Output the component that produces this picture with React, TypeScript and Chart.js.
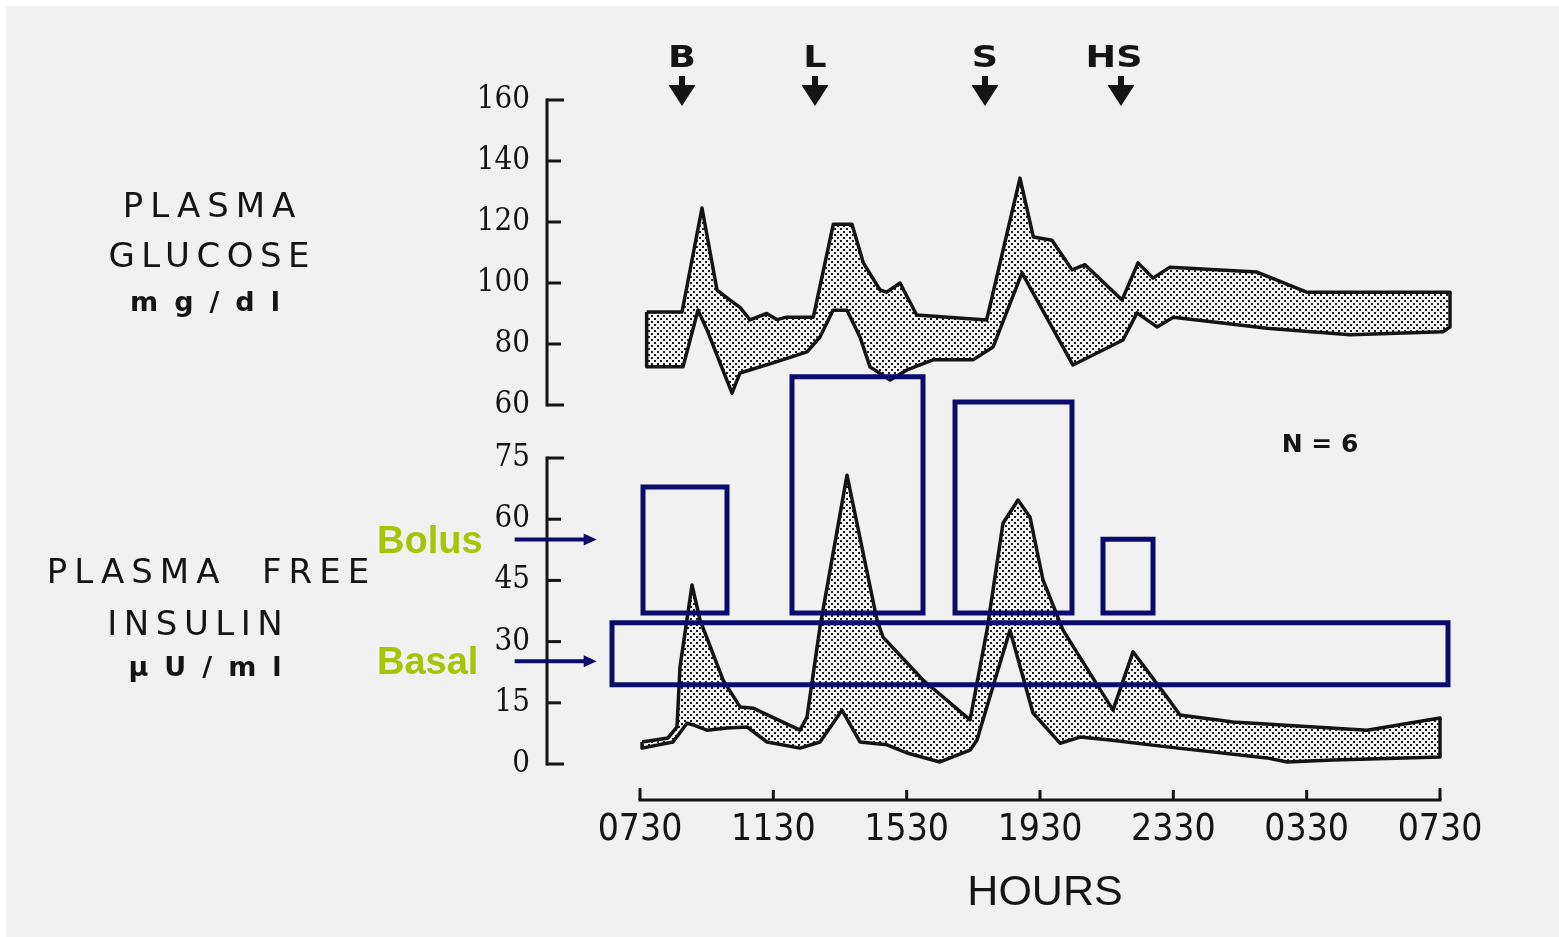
import React, { useEffect, useRef } from 'react';
import { Chart, registerables } from 'chart.js';

Chart.register(...registerables);

// ---------- data ----------
const hourTicks = [0, 4, 8, 12, 16, 20, 24];
const hourLabels = ['0730', '1130', '1530', '1930', '2330', '0330', '0730'];
const glucoseTicks = [60, 80, 100, 120, 140, 160];
const insulinTicks = [0, 15, 30, 45, 60, 75];

// hours after 07:30
const glucoseUpperX = [0.2, 1.26, 1.86, 2.31, 2.7, 3.0, 3.3, 3.8, 4.1, 4.4, 5.2, 5.8, 6.36, 6.7, 7.2, 7.4, 7.8, 8.3, 10.4, 11.4, 11.8, 12.36, 12.96, 13.35, 14.46, 14.94, 15.39, 15.9, 18.51, 20.0, 24.3];
const glucoseUpperY = [90.5, 90.5, 124.6, 97.7, 94.4, 92, 87.9, 90, 88, 88.8, 88.8, 119.3, 119.3, 106.6, 97.7, 97, 100, 89.5, 87.9, 134.4, 115.1, 114, 104.3, 106, 94.4, 106.6, 101.6, 105.2, 103.6, 97, 97];
const glucoseLowerX = [0.2, 1.29, 1.74, 2.01, 2.76, 3.0, 3.99, 5.01, 5.4, 5.79, 6.21, 6.6, 6.9, 7.5, 8.01, 8.79, 9.99, 10.59, 11.46, 12.99, 14.49, 14.91, 15.51, 16.0, 18.81, 21.3, 24.09, 24.3];
const glucoseLowerY = [72.5, 72.5, 91.1, 84.6, 63.9, 70.5, 73.8, 77.4, 82.3, 91.1, 91.1, 82.3, 72.5, 68.2, 71.5, 74.8, 74.8, 79, 103.3, 73.1, 81.3, 90.2, 85.6, 88.8, 85.2, 83, 84, 85.6];

const insulinUpperX = [0.06, 0.84, 1.11, 1.2, 1.56, 1.8, 2.49, 3.0, 3.39, 4.8, 5.01, 5.4, 6.21, 7.11, 7.29, 8.49, 9.9, 10.41, 10.89, 11.34, 11.7, 12.09, 12.69, 14.19, 14.79, 15.81, 16.2, 17.79, 21.81, 24.0];
const insulinUpperY = [5.4, 6.4, 9.1, 23.8, 43.9, 35.3, 20.6, 14, 13.7, 8.3, 11.5, 33.6, 70.8, 35.3, 31.1, 20.6, 10.8, 32.8, 59, 64.7, 60.5, 45.1, 32.8, 13.2, 27.5, 16.4, 12, 10.3, 8.3, 11.3];
const insulinLowerX = [0.06, 0.99, 1.41, 1.59, 2.01, 2.61, 3.21, 3.81, 4.8, 5.4, 6.06, 6.6, 7.41, 8.01, 9.0, 9.9, 10.11, 10.71, 11.1, 11.79, 12.6, 13.2, 14.1, 15.81, 18.81, 19.41, 20.79, 24.0];
const insulinLowerY = [3.9, 5.4, 10, 9.6, 8.3, 8.8, 9.1, 5.4, 3.9, 5.4, 13.2, 5.4, 4.7, 2.7, 0.5, 3.4, 5.9, 22.3, 32.8, 12.5, 5.1, 6.6, 5.9, 4.2, 1.5, 0.5, 1, 1.7];

// bolus boxes (insulin units, hours)
const bolusStart = [0.09, 4.56, 9.45, 13.89];
const bolusEnd = [2.61, 8.49, 12.96, 15.39];
const bolusTop = [67.9, 94.9, 88.7, 55.1];
const bolusBottom = 37.0;
// basal box
const basalStart = -0.84;
const basalEnd = 24.24;
const basalTop = 34.6;
const basalBottom = 19.4;

const mealTimes = [1.26, 5.25, 10.35, 14.43];
const mealLabels = ['B', 'L', 'S', 'HS'];

const pointerLabels = ['Bolus', 'Basal'];
const pointerLevels = [55, 25.2];

// ---------- helpers ----------
const W = 1559;
const H = 937;
const NAVY = '#0b0b6c';
const INK = '#141414';
const GREEN = '#a6c408';

function polygon(ux: number[], uy: number[], lx: number[], ly: number[]) {
  const pts = ux.map((x, i) => ({ x, y: uy[i] }));
  for (let i = lx.length - 1; i >= 0; i--) pts.push({ x: lx[i], y: ly[i] });
  pts.push({ ...pts[0] });
  return pts;
}

function rect(x0: number, x1: number, y0: number, y1: number) {
  return [
    { x: x0, y: y1 },
    { x: x1, y: y1 },
    { x: x1, y: y0 },
    { x: x0, y: y0 },
    { x: x0, y: y1 },
  ];
}

function makePattern(): CanvasPattern | string {
  const c = document.createElement('canvas');
  c.width = 6;
  c.height = 6;
  const g = c.getContext('2d');
  if (!g) return '#bbb';
  g.fillStyle = '#f4f4f4';
  g.fillRect(0, 0, 6, 6);
  g.fillStyle = '#1c1c1c';
  g.fillRect(0, 0, 2, 2);
  g.fillRect(3, 3, 2, 2);
  return g.createPattern(c, 'repeat') || '#bbb';
}

type TxtOpts = { align?: 'left' | 'center' | 'right'; spacing?: number; sx?: number; color?: string; baseline?: CanvasTextBaseline };
function txt(ctx: CanvasRenderingContext2D, s: string, x: number, y: number, font: string, o: TxtOpts = {}) {
  ctx.save();
  ctx.font = font;
  ctx.fillStyle = o.color || INK;
  ctx.textBaseline = o.baseline || 'alphabetic';
  const sp = o.spacing || 0;
  (ctx as any).letterSpacing = sp + 'px';
  const sx = o.sx || 1;
  const w = (ctx.measureText(s).width - sp) * sx;
  let left = x;
  if (o.align === 'center') left = x - w / 2;
  else if (o.align === 'right') left = x - w;
  ctx.translate(left, y);
  ctx.scale(sx, 1);
  ctx.textAlign = 'left';
  ctx.fillText(s, 0, 0);
  ctx.restore();
}

const overlay = {
  id: 'overlay',
  beforeDraw(chart: any) {
    const ctx: CanvasRenderingContext2D = chart.ctx;
    ctx.save();
    ctx.fillStyle = '#ffffff';
    ctx.fillRect(0, 0, W, H);
    ctx.fillStyle = '#f1f1f1';
    ctx.fillRect(6, 6, W - 6, H - 6);
    ctx.restore();
  },
  afterDraw(chart: any) {
    const ctx: CanvasRenderingContext2D = chart.ctx;
    const xs = chart.scales.x;
    const yG = chart.scales.yG;
    const yI = chart.scales.yI;
    const ax = chart.chartArea.left - 1;
    const bottom = chart.chartArea.bottom;

    ctx.save();
    ctx.strokeStyle = INK;
    ctx.lineWidth = 3;
    ctx.lineCap = 'butt';

    // y axes (bracket style)
    const drawY = (scale: any, ticks: number[]) => {
      const yTop = scale.getPixelForValue(ticks[ticks.length - 1]);
      const yBot = scale.getPixelForValue(ticks[0]);
      ctx.beginPath();
      ctx.moveTo(ax, yTop - 1.5);
      ctx.lineTo(ax, yBot + 1.5);
      ctx.stroke();
      ticks.forEach((v, i) => {
        const y = scale.getPixelForValue(v);
        const len = i === 0 || i === ticks.length - 1 ? 17 : 14;
        ctx.beginPath();
        ctx.moveTo(ax, y);
        ctx.lineTo(ax + len, y);
        ctx.stroke();
        txt(ctx, String(v), ax - 17, y, '31px "DejaVu Serif Condensed", "DejaVu Serif", serif', { align: 'right', baseline: 'middle' });
      });
    };
    drawY(yG, glucoseTicks);
    drawY(yI, insulinTicks);

    // x axis
    const x0 = xs.getPixelForValue(hourTicks[0]);
    const x1 = xs.getPixelForValue(hourTicks[hourTicks.length - 1]);
    ctx.beginPath();
    ctx.moveTo(x0 - 1.5, bottom);
    ctx.lineTo(x1 + 1.5, bottom);
    ctx.stroke();
    hourTicks.forEach((v, i) => {
      const x = xs.getPixelForValue(v);
      ctx.beginPath();
      ctx.moveTo(x, bottom);
      ctx.lineTo(x, bottom - (i === 0 || i === hourTicks.length - 1 ? 12 : 10));
      ctx.stroke();
    });
    txt(ctx, 'HOURS', (x0 + x1) / 2 + 5, 905, '43px "Liberation Sans", Arial, sans-serif', { align: 'center' });

    // meal markers
    ctx.fillStyle = INK;
    mealTimes.forEach((t, i) => {
      const x = xs.getPixelForValue(t);
      const lx = mealLabels[i].length > 1 ? x - 7 : x;
      txt(ctx, mealLabels[i], lx, 67, 'bold 31px "DejaVu Sans", sans-serif', { align: 'center', sx: 1.18 });
      ctx.fillStyle = INK;
      ctx.fillRect(x - 3, 76, 6, 12);
      ctx.beginPath();
      ctx.moveTo(x - 13.5, 85);
      ctx.lineTo(x + 13.5, 85);
      ctx.lineTo(x, 106);
      ctx.closePath();
      ctx.fill();
    });

    // left titles
    const f34 = '34px "DejaVu Sans", sans-serif';
    txt(ctx, 'PLASMA', 209, 217, f34, { align: 'center', spacing: 7 });
    txt(ctx, 'GLUCOSE', 209, 267, f34, { align: 'center', spacing: 6.5 });
    txt(ctx, 'mg/dl', 205, 311, 'bold 27px "DejaVu Sans", sans-serif', { align: 'center', spacing: 16 });
    txt(ctx, 'PLASMA  FREE', 208, 583, f34, { align: 'center', spacing: 7 });
    txt(ctx, 'INSULIN', 195, 635, f34, { align: 'center', spacing: 6.5 });
    txt(ctx, 'μU/ml', 205, 676, 'bold 27px "DejaVu Sans", sans-serif', { align: 'center', spacing: 16 });

    // N = 6
    txt(ctx, 'N = 6', 1320, 452, 'bold 25px "DejaVu Sans", sans-serif', { align: 'center' });

    // Bolus / Basal pointers
    const pxStart = xs.getPixelForValue(-3.76);
    const pxEnd = xs.getPixelForValue(-1.3);
    pointerLevels.forEach((v, i) => {
      const y = yI.getPixelForValue(v);
      txt(ctx, pointerLabels[i], 377, y + 13, 'bold 38px "Liberation Sans", Arial, sans-serif', { color: GREEN });
      ctx.strokeStyle = NAVY;
      ctx.fillStyle = NAVY;
      ctx.lineWidth = 4;
      ctx.beginPath();
      ctx.moveTo(pxStart, y);
      ctx.lineTo(pxEnd - 10, y);
      ctx.stroke();
      ctx.beginPath();
      ctx.moveTo(pxEnd - 13, y - 6);
      ctx.lineTo(pxEnd, y);
      ctx.lineTo(pxEnd - 13, y + 6);
      ctx.closePath();
      ctx.fill();
    });
    ctx.restore();
  },
};

export default function App() {
  const ref = useRef<HTMLCanvasElement>(null);
  useEffect(() => {
    const canvas = ref.current;
    if (!canvas) return;
    const pattern = makePattern();
    const boxStyle = {
      yAxisID: 'yI',
      borderColor: NAVY,
      borderWidth: 5,
      borderCapStyle: 'square' as const,
      borderJoinStyle: 'miter' as const,
      pointRadius: 0,
      fill: false,
      tension: 0,
    };
    const boxDatasets: any[] = bolusStart.map((s, i) => ({
      ...boxStyle,
      data: rect(s, bolusEnd[i], bolusBottom, bolusTop[i]),
    }));
    boxDatasets.push({ ...boxStyle, data: rect(basalStart, basalEnd, basalBottom, basalTop) });
    const bandStyle = {
      borderColor: INK,
      borderWidth: 3.5,
      borderJoinStyle: 'round' as const,
      backgroundColor: pattern as any,
      fill: 'shape',
      pointRadius: 0,
      tension: 0,
    };
    const chart = new Chart(canvas, {
      type: 'line',
      data: {
        datasets: [
          ...boxDatasets,
          { ...bandStyle, yAxisID: 'yG', data: polygon(glucoseUpperX, glucoseUpperY, glucoseLowerX, glucoseLowerY) },
          { ...bandStyle, yAxisID: 'yI', data: polygon(insulinUpperX, insulinUpperY, insulinLowerX, insulinLowerY) },
        ] as any,
      },
      options: {
        responsive: false,
        animation: false,
        devicePixelRatio: 1,
        layout: { padding: { left: 548, right: 59, top: 100, bottom: 0 } },
        plugins: { legend: { display: false }, tooltip: { enabled: false } },
        scales: {
          x: {
            type: 'linear',
            position: 'bottom',
            min: -2.76,
            max: 25.8,
            afterBuildTicks: (s: any) => {
              s.ticks = hourTicks.map((v) => ({ value: v }));
            },
            afterFit: (s: any) => {
              s.height = 137;
            },
            ticks: {
              autoSkip: false,
              maxRotation: 0,
              padding: 8,
              color: INK,
              font: { family: '"Liberation Sans Narrow", "DejaVu Sans Condensed", sans-serif', size: 37 },
              callback: (_v: any, i: number) => hourLabels[i],
            },
            grid: { display: false, drawTicks: false },
            border: { display: false },
          },
          yG: { type: 'linear', position: 'left', display: false, min: -69.51, max: 160 },
          yI: { type: 'linear', position: 'left', display: false, min: -8.82, max: 162.75 },
        },
      } as any,
      plugins: [overlay],
    });
    return () => chart.destroy();
  }, []);
  return (
    <div style={{ position: 'fixed', left: 0, top: 0, width: W, height: H, background: '#f1f1f1' }}>
      <canvas ref={ref} width={W} height={H} style={{ display: 'block', width: W, height: H }} />
    </div>
  );
}
